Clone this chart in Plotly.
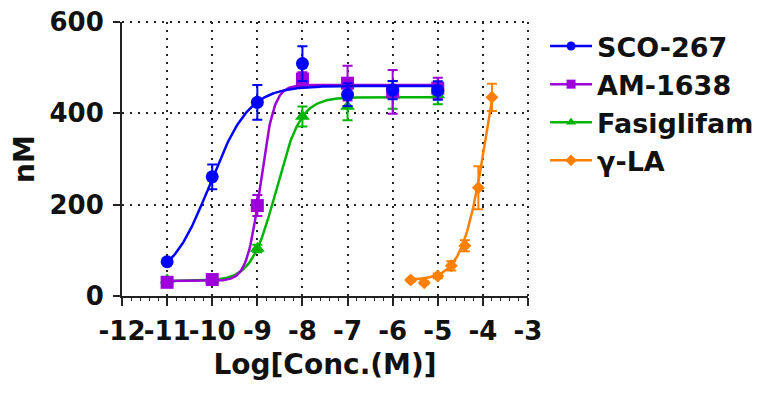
import numpy as np
import plotly.graph_objects as go

# ---- measured responses (mean ± error) ----
log_conc = [-11, -10, -9, -8, -7, -6, -5]

sco267 = [75, 261, 424, 509, 441, 451, 450]
sco267_err = [5, 27, 38, 38, 25, 20, 20]

am1638 = [30, 36, 198, 475, 466, 447, 455]
am1638_err = [4, 5, 23, 15, 38, 48, 23]

fasiglifam = [35, 35, 104, 393, 415, 440, 440]
fasiglifam_err = [3, 3, 8, 22, 30, 30, 20]

gla_log_conc = [-5.6, -5.3, -5.0, -4.7, -4.4, -4.1, -3.8]
gla = [35, 29, 44, 66, 110, 237, 435]
gla_err = [3, 3, 5, 10, 12, 47, 30]

# ---- 4-parameter logistic fit parameters: bottom, top, logEC50, hill ----
fit_sco267 = [30, 460, -10.05, 1.0]
fit_am1638 = [33, 462, -8.93, 2.9]
fit_fasiglifam = [33, 435, -8.58, 1.6]
fit_gla = [35, 700, -3.9, 1.6]

# ---- axis ticks ----
x_ticks = [-12, -11, -10, -9, -8, -7, -6, -5, -4, -3]
x_ticktext = ["-12", "-11", "-10", "-9", "-8", "-7", "-6", "-5", "-4", "-3"]
y_ticks = [0, 200, 400, 600]

names = ["SCO-267", "AM-1638", "Fasiglifam", "γ-LA"]
colors = ["#0000ff", "#9d00d8", "#00b400", "#ff8000"]
symbols = ["circle", "square", "triangle-up", "diamond"]
marker_sizes = [13, 13, 13, 10]

FONT = "DejaVu Sans"
INK = "#111"
LINE = "#222"


def four_pl(x, p):
    bottom, top, logec50, hill = p
    return bottom + (top - bottom) / (1 + 10 ** ((logec50 - x) * hill))


series = [
    (log_conc, sco267, sco267_err, fit_sco267),
    (log_conc, am1638, am1638_err, fit_am1638),
    (log_conc, fasiglifam, fasiglifam_err, fit_fasiglifam),
    (gla_log_conc, gla, gla_err, fit_gla),
]

fig = go.Figure()

# legend entries (line with marker)
for i, name in enumerate(names):
    fig.add_trace(go.Scatter(
        x=[None], y=[None], name=name, mode="lines+markers",
        line=dict(color=colors[i], width=2.5),
        marker=dict(symbol=symbols[i], size=9, color=colors[i]),
        showlegend=True,
    ))

# fitted curves and data points; drawn so SCO-267 sits on top
for i in [3, 2, 1, 0]:
    xs, ys, es, fit = series[i]
    xc = np.linspace(min(xs), max(xs), 300)
    fig.add_trace(go.Scatter(
        x=xc, y=four_pl(xc, fit), mode="lines",
        line=dict(color=colors[i], width=2.5),
        showlegend=False, hoverinfo="skip",
    ))
    fig.add_trace(go.Scatter(
        x=xs, y=ys, mode="markers", name=names[i],
        marker=dict(symbol=symbols[i], size=marker_sizes[i], color=colors[i]),
        error_y=dict(type="data", array=es, color=colors[i], thickness=2, width=5),
        showlegend=False,
    ))

axis_common = dict(
    showline=True, linewidth=2, linecolor=LINE,
    showgrid=True, gridcolor=LINE, gridwidth=2, griddash="2px,6px",
    zeroline=False, ticks="outside", tickwidth=2, tickcolor=LINE,
    tickfont=dict(family=FONT, size=26, color=INK, weight="bold"),
    automargin=False, tickangle=0,
)

fig.update_xaxes(
    range=[-12, -3], tickmode="array", tickvals=x_ticks, ticktext=x_ticktext, ticklen=8,
    minor=dict(dtick=0.2, tick0=-12, ticks="outside", ticklen=3, tickwidth=1, tickcolor=LINE, showgrid=False),
    title=dict(text="Log[Conc.(M)]", font=dict(family=FONT, size=28, color=INK, weight="bold"), standoff=9),
    ticklabelstandoff=3,
    **axis_common,
)
fig.update_yaxes(
    range=[0, 600], tickmode="array", tickvals=y_ticks, ticklen=7,
    title=dict(text="nM", font=dict(family=FONT, size=28, color=INK, weight="bold"), standoff=7),
    ticklabelstandoff=4,
    **axis_common,
)

# dotted frame along the top and right edges of the plotting area
frame = dict(type="line", line=dict(color=LINE, width=2, dash="2px,6px"), layer="below")
fig.add_shape(xref="x domain", yref="y domain", x0=0, x1=1, y0=1, y1=1, **frame)
fig.add_shape(xref="x domain", yref="y domain", x0=1, x1=1, y0=0, y1=1, **frame)

fig.update_layout(
    width=771, height=396, autosize=False,
    margin=dict(l=122, r=237, t=22, b=100),
    paper_bgcolor="white", plot_bgcolor="white",
    legend=dict(
        x=1.042, y=1.0, xanchor="left", yanchor="top",
        font=dict(family=FONT, size=27, color=INK, weight="bold"),
        itemwidth=42, traceorder="normal", bgcolor="rgba(0,0,0,0)",
    ),
)

fig.write_html("out.html")
